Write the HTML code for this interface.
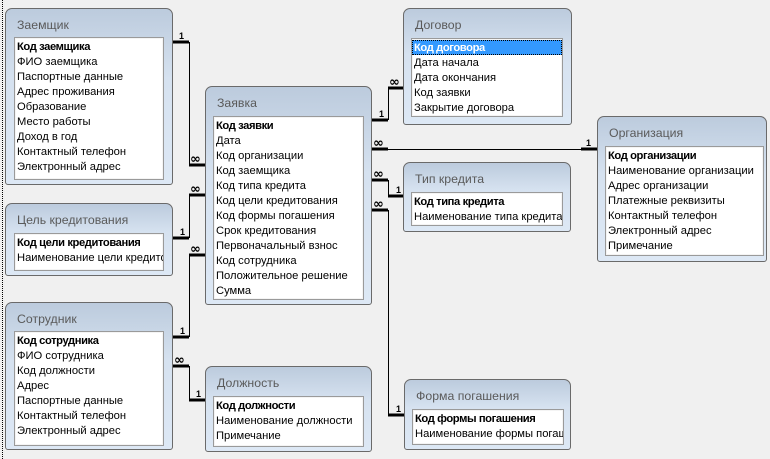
<!DOCTYPE html>
<html><head><meta charset="utf-8"><style>
*{margin:0;padding:0;box-sizing:border-box}
body{width:770px;height:459px;background:#f0f0f0;position:relative;overflow:hidden;font-family:"Liberation Sans","DejaVu Sans",sans-serif}
.edge{position:absolute;left:2px;top:0;width:0;height:459px;border-left:1px dotted #000}
.b{position:absolute;border:1px solid #6a6a6a;border-radius:7px 7px 3px 3px;background:linear-gradient(#bccbdd,#d6e2f0 40%,#dde8f5)}
.t{position:absolute;left:11px;top:9px;font-size:12.3px;color:#5a5a5a;white-space:nowrap}
.l{position:absolute;background:#fff;border:1px solid #9a9a9a;box-shadow:inset 0 0 0 1px #f4f4f4;overflow:hidden;padding-top:1px}
.l div{height:15px;line-height:16px;font-size:11.2px;padding-left:2px;white-space:nowrap;color:#000}
.l div.k{font-weight:bold;letter-spacing:-0.4px}
.l div.s{background:#3399ff;color:#fff;outline:1px dotted #000;outline-offset:-1px}
svg{position:absolute;left:0;top:0}
</style></head><body>
<div class="edge"></div>
<svg width="770" height="459">
<g stroke="#000" fill="none">
<path d="M173 42H189M189 165H205M173 238H189M189 195H205M173 337H189M189 255H205M173 366H189M189 400H205M372 120H388M388 88H404M372 149H388M581 149H597M372 180H388M388 196H404M372 210H388M388 415H404" stroke-width="3"/>
<path d="M189.5 42V165M189.5 195V238M189.5 255V337M189.5 366V400M388.5 88V120M388 149.5H581M388.5 180V196M388.5 210V415" stroke-width="1"/>
</g>
<g font-family="Liberation Sans,sans-serif" font-weight="bold" font-size="9" fill="#000">
<text x="179" y="39">1</text><text x="180" y="235">1</text><text x="180" y="334">1</text><text x="196" y="397">1</text>
<text x="379" y="117">1</text><text x="586" y="146">1</text><text x="396" y="193">1</text><text x="396" y="412">1</text>
</g>
<g font-family="DejaVu Sans,sans-serif" font-weight="bold" font-size="13" fill="#000">
<text x="190" y="163">∞</text><text x="190" y="193">∞</text><text x="190" y="253">∞</text><text x="174" y="364">∞</text>
<text x="389" y="86">∞</text><text x="373" y="147">∞</text><text x="373" y="178">∞</text><text x="373" y="208">∞</text>
</g>
</svg>

<div class="b" style="left:5px;top:8px;width:168px;height:177px"><div class="t">Заемщик</div></div>
<div class="l" style="left:14px;top:37px;width:150px;height:143px"><div class="k">Код заемщика</div><div>ФИО заемщика</div><div>Паспортные данные</div><div>Адрес проживания</div><div>Образование</div><div>Место работы</div><div>Доход в год</div><div>Контактный телефон</div><div>Электронный адрес</div></div>

<div class="b" style="left:205px;top:86px;width:167px;height:219px"><div class="t">Заявка</div></div>
<div class="l" style="left:213px;top:116px;width:151px;height:184px"><div class="k">Код заявки</div><div>Дата</div><div>Код организации</div><div>Код заемщика</div><div>Код типа кредита</div><div>Код цели кредитования</div><div>Код формы погашения</div><div>Срок кредитования</div><div>Первоначальный взнос</div><div>Код сотрудника</div><div>Положительное решение</div><div>Сумма</div></div>

<div class="b" style="left:403px;top:8px;width:169px;height:117px"><div class="t">Договор</div></div>
<div class="l" style="left:411px;top:38px;width:152px;height:79px"><div class="k s">Код договора</div><div>Дата начала</div><div>Дата окончания</div><div>Код заявки</div><div>Закрытие договора</div></div>

<div class="b" style="left:597px;top:116px;width:170px;height:146px"><div class="t">Организация</div></div>
<div class="l" style="left:605px;top:146px;width:159px;height:110px"><div class="k">Код организации</div><div>Наименование организации</div><div>Адрес организации</div><div>Платежные реквизиты</div><div>Контактный телефон</div><div>Электронный адрес</div><div>Примечание</div></div>

<div class="b" style="left:403px;top:162px;width:168px;height:70px"><div class="t">Тип кредита</div></div>
<div class="l" style="left:411px;top:192px;width:152px;height:34px"><div class="k">Код типа кредита</div><div>Наименование типа кредита</div></div>

<div class="b" style="left:5px;top:203px;width:168px;height:73px"><div class="t">Цель кредитования</div></div>
<div class="l" style="left:14px;top:233px;width:150px;height:38px"><div class="k">Код цели кредитования</div><div>Наименование цели кредитования</div></div>

<div class="b" style="left:5px;top:302px;width:168px;height:148px"><div class="t">Сотрудник</div></div>
<div class="l" style="left:14px;top:331px;width:150px;height:115px"><div class="k">Код сотрудника</div><div>ФИО сотрудника</div><div>Код должности</div><div>Адрес</div><div>Паспортные данные</div><div>Контактный телефон</div><div>Электронный адрес</div></div>

<div class="b" style="left:205px;top:366px;width:167px;height:86px"><div class="t">Должность</div></div>
<div class="l" style="left:213px;top:396px;width:151px;height:51px"><div class="k">Код должности</div><div>Наименование должности</div><div>Примечание</div></div>

<div class="b" style="left:404px;top:379px;width:167px;height:71px"><div class="t">Форма погашения</div></div>
<div class="l" style="left:412px;top:409px;width:152px;height:36px"><div class="k">Код формы погашения</div><div>Наименование формы погашения</div></div>
</body></html>
